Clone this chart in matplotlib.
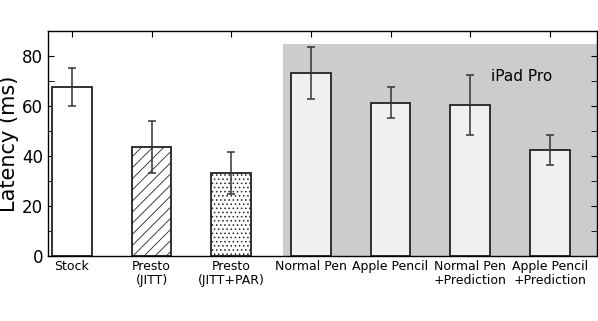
import matplotlib.pyplot as plt
import numpy as np

labels = ["Stock", "Presto\n(JITT)", "Presto\n(JITT+PAR)", "Normal Pen", "Apple Pencil",
          "Normal Pen\n+Prediction", "Apple Pencil\n+Prediction"]
latency = [67.6, 43.6, 33.1, 73.2, 61.3, 60.4, 42.5]
errors = [7.5, 10.3, 8.4, 10.5, 6.2, 12.0, 6.0]
hatches = ["", "///", "....", "", "", "", ""]
faces = ["white", "white", "white", "#f0f0f0", "#f0f0f0", "#f0f0f0", "#f0f0f0"]

plt.rcParams['hatch.color'] = '#888888'
plt.rcParams['hatch.linewidth'] = 0.6

fig = plt.figure(figsize=(5.98, 3.21), dpi=100)
ax = fig.add_axes([0.0803, 0.2025, 0.9177, 0.7009])

x = np.arange(len(labels))

# shaded iPad Pro region
ax.fill_between([2.65, 6.7], 0, 85, color='#cccccc', linewidth=0, zorder=0)

for i in range(len(labels)):
    ax.bar(x[i], latency[i], width=0.5, color=faces[i], edgecolor='#222222',
           linewidth=1.3, hatch=hatches[i], zorder=2)
ax.errorbar(x, latency, yerr=errors, fmt='none', ecolor='#333333',
            elinewidth=1.1, capsize=3, capthick=1.1, zorder=3)

ax.text(5.64, 72, "iPad Pro", fontsize=11, ha='center', va='center')

ax.set_xlim(-0.3, 6.59)
ax.set_ylim(0, 90)
ax.set_xticks(x)
ax.set_xticklabels(labels, fontsize=9, linespacing=1.1)
ax.set_yticks([0, 20, 40, 60, 80])
ax.set_yticks(np.arange(10, 90, 20), minor=True)
ax.tick_params(axis='y', labelsize=12, direction='in', right=True, length=4)
ax.tick_params(axis='y', which='minor', direction='in', right=True, length=4)
ax.tick_params(axis='x', direction='in', top=True, length=4, pad=3)
ax.set_ylabel("Latency (ms)", fontsize=15, labelpad=2)
for s in ax.spines.values():
    s.set_linewidth(1.0)

plt.savefig("out.png", dpi=100)
